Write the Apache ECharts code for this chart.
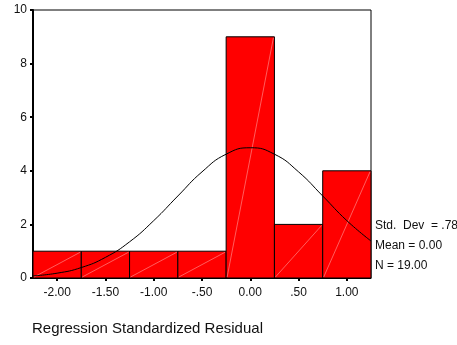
<!DOCTYPE html>
<html>
<head>
<meta charset="utf-8">
<script src="https://cdn.jsdelivr.net/npm/echarts@6/dist/echarts.min.js"></script>
<style>
  html, body { margin: 0; padding: 0; background: #fff; }
  #chart { width: 457px; height: 345px; }
</style>
</head>
<body>
<div id="chart"></div>
<script>
// histogram bins (centre of each bin) and counts
var binCenters = [-2.0, -1.5, -1.0, -0.5, 0.0, 0.5, 1.0];
var binCounts = [1, 1, 1, 1, 9, 2, 4];
var binWidth = 0.5;
var tickLabels = ['-2.00', '-1.50', '-1.00', '-.50', '0.00', '.50', '1.00'];

// normal curve
var curveX = [-2.25, -2.0, -1.75, -1.5, -1.25, -1.0, -0.75, -0.5, -0.25, 0.0, 0.25, 0.5, 0.75, 1.0, 1.25];
var curveY = [0.08, 0.18, 0.39, 0.77, 1.35, 2.14, 3.06, 3.96, 4.62, 4.86, 4.62, 3.96, 3.06, 2.14, 1.38];

var statLines = ['Std.  Dev  = .78', 'Mean = 0.00', 'N = 19.00'];
var axisTitle = 'Regression Standardized Residual';

var barData = binCenters.map(function (c, i) { return [c, binCounts[i]]; });
var curveData = curveX.map(function (x, i) { return [x, curveY[i]]; });

var myChart = echarts.init(document.getElementById('chart'));
myChart.setOption({
  animation: false,
  grid: {
    left: 33, right: 86, top: 10, bottom: 67,
    show: true, borderColor: '#000', borderWidth: 1
  },
  xAxis: {
    type: 'value',
    min: -2.25,
    max: 1.25,
    splitLine: { show: false },
    axisLine: { show: true, onZero: false, lineStyle: { color: '#000', width: 1 } },
    axisTick: { show: true, customValues: binCenters, length: 3, lineStyle: { color: '#000', width: 2 } },
    axisLabel: {
      customValues: binCenters,
      color: '#111', fontFamily: 'Liberation Sans', fontSize: 12, margin: 9,
      formatter: function (v) {
        var i = binCenters.indexOf(v);
        return i >= 0 ? tickLabels[i] : '';
      }
    }
  },
  yAxis: {
    type: 'value',
    min: 0,
    max: 10,
    interval: 2,
    splitLine: { show: false },
    axisLine: { show: true, onZero: false, lineStyle: { color: '#000', width: 2 } },
    axisTick: { show: true, length: 3, lineStyle: { color: '#000', width: 2 } },
    axisLabel: { color: '#111', fontFamily: 'Liberation Sans', fontSize: 12, margin: 6 }
  },
  series: [
    {
      type: 'custom',
      data: barData,
      z: 2,
      renderItem: function (params, api) {
        var c = api.value(0), n = api.value(1);
        var p0 = api.coord([c - binWidth / 2, 0]);
        var p1 = api.coord([c + binWidth / 2, n]);
        return {
          type: 'group',
          children: [
            {
              type: 'rect',
              shape: { x: p0[0], y: p1[1], width: p1[0] - p0[0], height: p0[1] - p1[1] },
              style: { fill: '#ff0000', stroke: '#000', lineWidth: 1 }
            },
            {
              type: 'line',
              shape: { x1: p0[0] + 1, y1: p0[1] - 1, x2: p1[0] - 1, y2: p1[1] + 1 },
              style: { stroke: 'rgba(255,170,170,0.55)', lineWidth: 1 }
            }
          ]
        };
      }
    },
    {
      type: 'line',
      data: curveData,
      smooth: true,
      symbol: 'none',
      z: 3,
      lineStyle: { color: '#000', width: 1 }
    }
  ],
  graphic: [
    {
      type: 'group',
      left: 375,
      top: 220,
      children: statLines.map(function (t, i) {
        return {
          type: 'text',
          top: i * 20,
          style: { text: t, fill: '#111', font: '12px "Liberation Sans"' }
        };
      })
    },
    {
      type: 'text',
      left: 32,
      top: 321,
      style: { text: axisTitle, fill: '#111', font: '15px "Liberation Sans"' }
    }
  ]
});
</script>
</body>
</html>
